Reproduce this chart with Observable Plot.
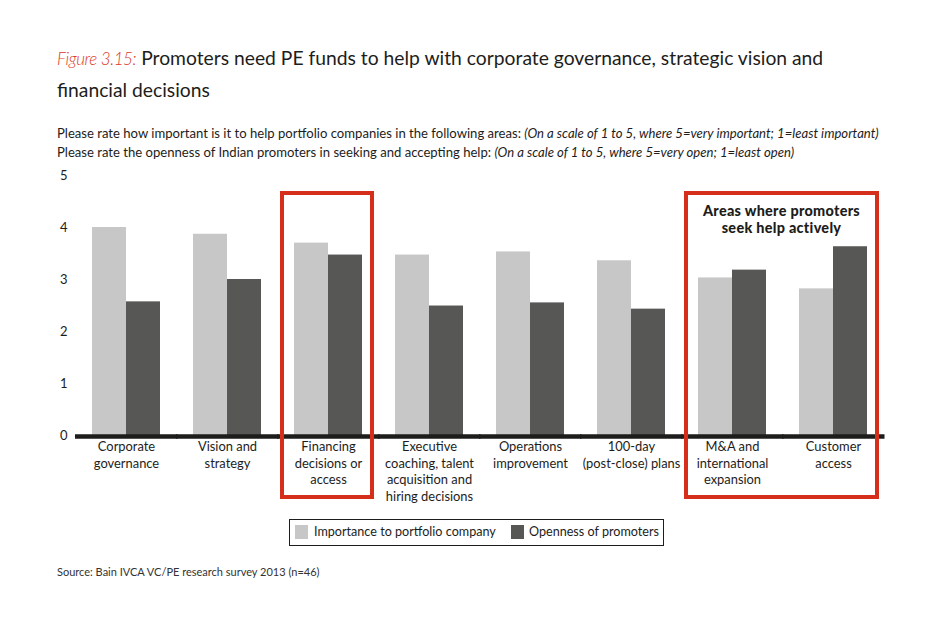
<!DOCTYPE html>
<html>
<head>
<meta charset="utf-8">
<script src="https://cdn.jsdelivr.net/npm/d3@7"></script>
<script src="https://cdn.jsdelivr.net/npm/@observablehq/plot@0.6"></script>
<style>
  body { margin:0; width:950px; height:622px; background:#fff; position:relative; overflow:hidden;
         font-family: Lato, "Open Sans", sans-serif; color:#1d1d1b; }
  .abs { position:absolute; white-space:nowrap; }
  #title { left:57px; top:42px; font-size:19.3px; line-height:31px; }
  #title .fig { color:#dc3a27; font-style:italic; font-weight:300; font-size:17px; letter-spacing:-0.4px; }
  #subtitle { left:57px; top:124px; font-size:13.1px; line-height:19px; }
  #chart { left:0; top:165px; }
  #legend { left:289px; top:519px; width:373px; height:25px; border:1px solid #1d1d1b; font-size:12.6px; }
  #legend .sw { position:absolute; top:5px; width:13px; height:14px; }
  #legend .lb { position:absolute; top:4px; line-height:16px; }
  #source { left:57px; top:565px; font-size:11px; color:#333; }
</style>
</head>
<body>
<div id="title" class="abs"><span class="fig">Figure 3.15:</span> Promoters need PE funds to help with corporate governance, strategic vision and<br>financial decisions</div>
<div id="subtitle" class="abs">Please rate how important is it to help portfolio companies in the following areas: <i>(On a scale of 1 to 5, where 5=very important; 1=least important)</i><br>Please rate the openness of Indian promoters in seeking and accepting help: <i>(On a scale of 1 to 5, where 5=very open; 1=least open)</i></div>
<div id="chart" class="abs"></div>
<div id="legend" class="abs"></div>
<div id="source" class="abs">Source: Bain IVCA VC/PE research survey 2013 (n=46)</div>
<script>
const categories = [
  "Corporate\ngovernance",
  "Vision and\nstrategy",
  "Financing\ndecisions or\naccess",
  "Executive\ncoaching, talent\nacquisition and\nhiring decisions",
  "Operations\nimprovement",
  "100-day\n(post-close) plans",
  "M&A and\ninternational\nexpansion",
  "Customer\naccess"
];
const series = ["Importance to portfolio company", "Openness of promoters"];
const importance = [4.0, 3.87, 3.7, 3.47, 3.53, 3.36, 3.03, 2.82];
const openness   = [2.57, 3.0, 3.47, 2.49, 2.55, 2.43, 3.18, 3.63];
const yTicks = [0, 1, 2, 3, 4, 5];
const seriesColors = ["#c6c7c6", "#575756"];
const highlightGroups = [[categories[2]], [categories[6], categories[7]]];
const annotationLines = ["Areas where promoters", "seek help actively"];

const FONT = 'Lato, "Open Sans", sans-serif';
const table = categories.flatMap((c, i) => [
  {cat: c, series: series[0], value: importance[i]},
  {cat: c, series: series[1], value: openness[i]}
]);

const W = 950, H = 345, ML = 73, MR = 64, MT = 10, MB = 75;

const plot = Plot.plot({
  width: W, height: H,
  marginLeft: ML, marginRight: MR, marginTop: MT, marginBottom: MB,
  style: {fontFamily: FONT, fontSize: "13px", color: "#1d1d1b", background: "#fff", overflow: "visible"},
  fx: {domain: categories, paddingInner: 0.33, paddingOuter: 0.165, axis: null, label: null},
  x: {domain: series, padding: 0, axis: null},
  y: {domain: [0, 5], ticks: yTicks, tickSize: 0, tickPadding: 25, label: null, tickFormat: d => String(d)},
  color: {domain: series, range: seriesColors},
  marks: [
    Plot.barY(table, {fx: "cat", x: "series", y: "value", fill: "series"}),
    Plot.ruleY([0], {stroke: "#1d1d1b", strokeWidth: 4.5, dy: 1, insetLeft: -17, insetRight: -17.5}),
    Plot.text(categories, {fx: d => d, text: d => d, frameAnchor: "bottom", lineAnchor: "top",
      dy: 4, lineHeight: 1.28, fontSize: 12.9, fill: "#1d1d1b"})
  ]
});
document.getElementById("chart").appendChild(plot);

// red highlight boxes drawn from the plot's own scales
const fxS = plot.scale("fx"), yS = plot.scale("y");
const bandScale = d3.scaleBand().domain(fxS.domain).range(fxS.range)
  .paddingInner(fxS.paddingInner ?? 0.33).paddingOuter(fxS.paddingOuter ?? 0.165).align(fxS.align ?? 0.5);
const fxPos = c => (fxS.apply ? fxS.apply(c) : bandScale(c));
const bw = fxS.bandwidth ?? bandScale.bandwidth();
const yPos = v => (yS.apply ? yS.apply(v) : d3.scaleLinear(yS.domain, yS.range)(v));
const svg = d3.select(plot);
const boxTop = yPos(5) + 18, boxBottom = yPos(0) + 62;
const boxes = highlightGroups.map(g => ({x0: fxPos(g[0]) - 12, x1: fxPos(g[g.length - 1]) + bw + 10}));
svg.append("g").selectAll("rect").data(boxes).join("rect")
  .attr("x", d => d.x0).attr("y", boxTop)
  .attr("width", d => d.x1 - d.x0).attr("height", boxBottom - boxTop)
  .attr("fill", "none").attr("stroke", "#d52f1c").attr("stroke-width", 4);
const b2 = boxes[1];
svg.append("text").attr("text-anchor", "middle")
  .attr("font-family", FONT).attr("font-weight", 900).attr("font-size", 14.4).attr("fill", "#1d1d1b")
  .attr("letter-spacing", 0.3)
  .selectAll("tspan").data(annotationLines).join("tspan")
  .attr("x", (b2.x0 + b2.x1) / 2).attr("y", (d, i) => yPos(5) + 41 + i * 17).text(d => d);

// legend
const legend = d3.select("#legend");
const swX = [5, 221], lbX = [24, 239];
series.forEach((s, i) => {
  legend.append("div").attr("class", "sw").style("left", swX[i] + "px").style("background", seriesColors[i]);
  legend.append("div").attr("class", "lb").style("left", lbX[i] + "px").text(s);
});
</script>
</body>
</html>
